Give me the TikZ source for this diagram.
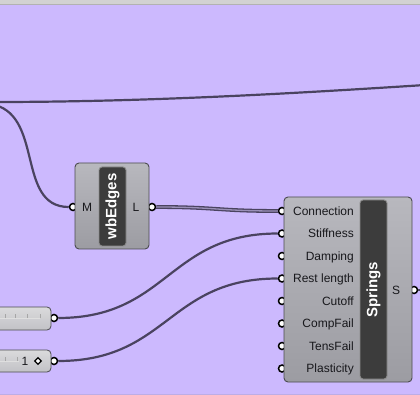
\documentclass[tikz,border=0pt]{standalone}
\usepackage{fontspec}
\setmainfont{Liberation Sans}
\usetikzlibrary{positioning,shapes.geometric}

\definecolor{canvas}{HTML}{CCB9FE}
\definecolor{wirecol}{HTML}{4A4360}
\definecolor{wiregap}{HTML}{9A90B8}
\definecolor{comptop}{HTML}{B8B8BE}
\definecolor{compbot}{HTML}{9C9CA2}
\definecolor{compedge}{HTML}{4C4C50}
\definecolor{barfill}{HTML}{3C3C3C}
\definecolor{baredge}{HTML}{8C8C8C}
\definecolor{slidetop}{HTML}{DADADC}
\definecolor{slidebot}{HTML}{C2C2C6}
\definecolor{labelcol}{HTML}{18181C}

\begin{document}
\begin{tikzpicture}[x=1pt, y=-1pt,
    comp/.style={draw=compedge, line width=0.9pt, rounded corners=4pt,
                 top color=comptop, bottom color=compbot},
    slider/.style={draw=compedge, line width=0.8pt, rounded corners=4pt,
                   top color=slidetop, bottom color=slidebot},
    bar/.style={draw=baredge, line width=0.9pt, fill=barfill, rounded corners=3pt},
    port/.style={circle, draw=black, fill=white, line width=1.5pt,
                 inner sep=0pt, minimum size=7pt},
    wire/.style={draw=wirecol, line width=2.2pt},
    lbl/.style={font=\fontsize{12}{12}\selectfont, text=labelcol, inner sep=0pt},
    title/.style={font=\fontsize{15}{15}\selectfont\bfseries, text=white,
                  rotate=90, inner sep=0pt}]

  % canvas
  \fill[canvas] (0,0) rectangle (420,395);
  \clip (0,0) rectangle (420,395);
  \fill[gray!35] (0,0) rectangle (420,4);
  \draw[gray!60, line width=0.6pt] (0,4) -- (420,4);
  \draw[canvas!80!gray, line width=0.8pt] (0,394) -- (420,394);

  % ports
  \node[port] (mport) at (73,207) {};
  \node[port] (lport) at (152,207) {};
  \foreach \lab [count=\i] in {Connection,Stiffness,Damping,Rest length,
                               Cutoff,CompFail,TensFail,Plasticity}
    \node[port] (in\i) at (282,{188.5+22.5*\i}) {};
  \node[port] (sport) at (414,290) {};
  \node[port] (s1) at (54,318) {};
  \node[port] (s2) at (54,361) {};

  % free wire ends
  \coordinate (wl) at (-5,102);
  \coordinate (wr) at (425,85);
  \coordinate (ml) at (-10,104);
  \coordinate (so) at (425,290);

  % wires
  \draw[wire] (wl) .. controls (150,102) and (300,93) .. (wr);
  \draw[wire] (ml) .. controls (45,112) and (15,207) .. (mport);
  \draw[draw=wirecol, line width=1.3pt, double=wiregap, double distance=1.3pt]
    (lport) .. controls (217,207) and (217,211) .. (in1);
  \draw[wire] (s1) .. controls (168,318) and (168,233.5) .. (in2);
  \draw[wire] (s2) .. controls (168,361) and (168,278.5) .. (in4);
  \draw[wire] (sport) -- (so);

  % wbEdges
  \draw[comp] (75,163) rectangle (149,249);
  \draw[bar] (99,167) rectangle (126,246);
  \node[title] (wbtitle) at (112.5,206.5) {wbEdges};
  \node[lbl, anchor=base] (mlab) at (87,211.3) {M};
  \node[lbl, anchor=base] (llab) at (136,211.3) {L};

  % Springs
  \draw[comp] (284,197) rectangle (412,382);
  \draw[bar] (360,200) rectangle (387,379);
  \node[title] (sptitle) at (373.5,290) {Springs};
  \node[lbl, anchor=base] (slab) at (396,294.3) {S};
  \foreach \lab [count=\i] in {Connection,Stiffness,Damping,Rest length,
                               Cutoff,CompFail,TensFail,Plasticity}
    \node[lbl, anchor=base east] (lab\i) at (354,{192.8+22.5*\i}) {\lab};

  % sliders
  \draw[slider] (-6,307) rectangle (51,330);
  \draw[gray!25, line width=1pt] (0,318) -- (40,318);
  \foreach \t in {5,15,27,40}
    \draw[gray!70, line width=0.5pt] (\t,318) -- (\t,314);
  \draw[slider] (-6,350) rectangle (51,372);
  \draw[gray!25, line width=1pt] (0,361) -- (19,361);
  \foreach \t in {5,17}
    \draw[gray!70, line width=0.5pt] (\t,361) -- (\t,357);
  \node[lbl, anchor=base] (val) at (25,365.3) {1};
  \node[diamond, draw=black, fill=white, line width=1.2pt, inner sep=0pt,
        minimum size=7pt] (knob) at (38,361) {};
\end{tikzpicture}
\end{document}
